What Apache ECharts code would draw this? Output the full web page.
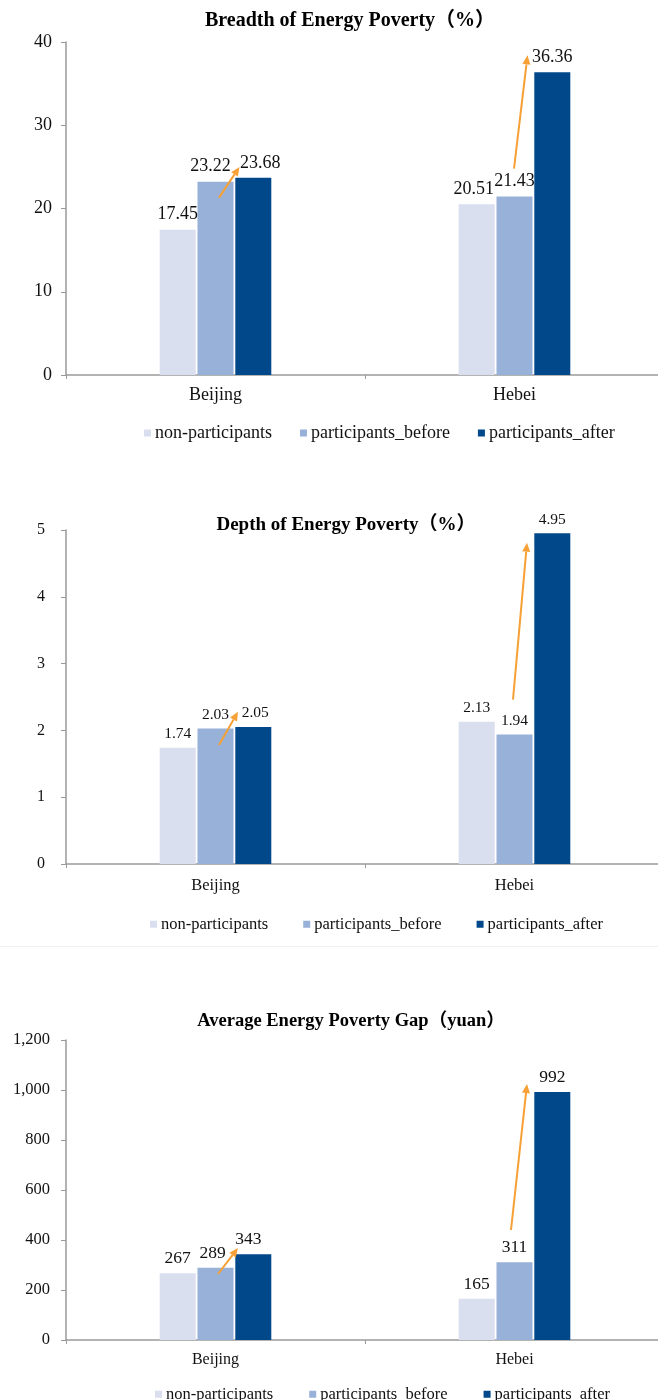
<!DOCTYPE html>
<html>
<head>
<meta charset="utf-8">
<script src="https://cdn.jsdelivr.net/npm/echarts@6/dist/echarts.min.js"></script>
<style>
  html, body { margin: 0; padding: 0; background: #ffffff; }
  #main { width: 658px; height: 1400px; }
</style>
</head>
<body>
<div id="main"></div>
<script>
// ---------- data ----------
const categories = ['Beijing', 'Hebei'];
const seriesNames = ['non-participants', 'participants_before', 'participants_after'];

const breadthNon = [17.45, 20.51];
const breadthBefore = [23.22, 21.43];
const breadthAfter = [23.68, 36.36];

const depthNon = [1.74, 2.13];
const depthBefore = [2.03, 1.94];
const depthAfter = [2.05, 4.95];

const gapNon = [267, 165];
const gapBefore = [289, 311];
const gapAfter = [343, 992];

const breadthTicks = [0, 10, 20, 30, 40];
const depthTicks = [0, 1, 2, 3, 4, 5];
const gapTicks = [0, 200, 400, 600, 800, 1000, 1200];

// arrow annotations (value at tail, value at head) per category
const breadthArrowFrom = [21.3, 24.8];
const breadthArrowTo = [25.0, 38.4];
const depthArrowFrom = [1.78, 2.46];
const depthArrowTo = [2.28, 4.81];
const gapArrowFrom = [264, 440];
const gapArrowTo = [368, 1024];

const titles = ['Breadth of Energy Poverty（%）', 'Depth of Energy Poverty（%）', 'Average Energy Poverty Gap（yuan）'];

// ---------- styles ----------
const SERIF = "'Liberation Serif', 'Times New Roman', 'Noto Sans CJK SC', serif";
const colors = ['#DADFF0', '#97B1D8', '#01488A'];
const arrowColor = '#F6A035';
const axisColor = '#9a9a9a';

const panels = [
  { top: 42, height: 333, ticks: breadthTicks, vals: [breadthNon, breadthBefore, breadthAfter],
    arrowFrom: breadthArrowFrom, arrowTo: breadthArrowTo, titleTop: 6, titleSize: 20, titleX: 345,
    legendTop: 419, legendLeft: 139, legendGap: 28,
    labelSize: 18, axisSize: 18, axisMargin: 14, catSize: 18, catMargin: 11, legendSize: 18,
    labelOffsets: [[[0,0],[-3,0]], [[-5,0],[0,0]], [[7,0],[0,0]]],
    arrowX: [[3.5, 24], [-0.5, 13]], fmt: v => String(v) },
  { top: 530, height: 334, ticks: depthTicks, vals: [depthNon, depthBefore, depthAfter],
    arrowFrom: depthArrowFrom, arrowTo: depthArrowTo, titleTop: 511, titleSize: 19, titleX: 341,
    legendTop: 911, legendLeft: 145, legendGap: 35,
    labelSize: 15.5, axisSize: 16, axisMargin: 21, catSize: 16.5, catMargin: 13, legendSize: 16.5,
    labelOffsets: [[[0,0],[0,0]], [[0,0],[0,0]], [[2,0],[0,0]]],
    arrowX: [[3.5, 22.5], [-1.5, 12.5]], fmt: v => String(v) },
  { top: 1040, height: 300, ticks: gapTicks, vals: [gapNon, gapBefore, gapAfter],
    arrowFrom: gapArrowFrom, arrowTo: gapArrowTo, titleTop: 1007, titleSize: 18.5, titleX: 346,
    legendTop: 1381, legendLeft: 150, legendGap: 36,
    labelSize: 17.5, axisSize: 16.5, axisMargin: 16, catSize: 16, catMargin: 12, legendSize: 16.5,
    labelOffsets: [[[0,0],[0,0]], [[-3,0],[0,0]], [[-5,0],[0,0]]],
    arrowX: [[2.5, 22.5], [-3.5, 12.5]], fmt: v => v.toLocaleString('en-US') }
];

function arrowRender(offsets) {
  return function (params, api) {
    const cat = api.value(0);
    const p0 = api.coord([cat, api.value(1)]);
    const p1 = api.coord([cat, api.value(2)]);
    const o = offsets[params.dataIndex];
    const x0 = p0[0] + o[0], y0 = p0[1];
    const x1 = p1[0] + o[1], y1 = p1[1];
    const dx = x1 - x0, dy = y1 - y0;
    const len = Math.sqrt(dx * dx + dy * dy);
    const ux = dx / len, uy = dy / len;
    const hl = 9, hw = 4;
    const bx = x1 - ux * hl, by = y1 - uy * hl;
    const px = -uy, py = ux;
    return {
      type: 'group',
      children: [
        { type: 'line', shape: { x1: x0, y1: y0, x2: bx, y2: by },
          style: { stroke: arrowColor, lineWidth: 2 } },
        { type: 'polygon', shape: { points: [[x1, y1], [bx + px * hw, by + py * hw], [bx - px * hw, by - py * hw]] },
          style: { fill: arrowColor } }
      ]
    };
  };
}

const option = {
  animation: false,
  backgroundColor: '#ffffff',
  title: [], legend: [], grid: [], xAxis: [], yAxis: [], series: [],
  graphic: [
    { type: 'rect', shape: { x: 0, y: 946, width: 658, height: 1 }, style: { fill: '#f0f0f0' }, silent: true }
  ]
};

panels.forEach((p, i) => {
  const t = p.ticks;
  option.title.push({
    text: titles[i], left: p.titleX, textAlign: 'center', top: p.titleTop,
    textStyle: { fontFamily: SERIF, fontWeight: 'bold', fontSize: p.titleSize, color: '#000' }
  });
  option.legend.push({
    data: seriesNames, left: p.legendLeft, top: p.legendTop, itemWidth: 7, itemHeight: 7, itemGap: p.legendGap,
    icon: 'rect', selectedMode: false,
    textStyle: { fontFamily: SERIF, fontSize: p.legendSize, color: '#111', padding: [0, 0, 0, -1] }
  });
  option.grid.push({ left: 66, width: 598, top: p.top, height: p.height, outerBoundsMode: 'none', containLabel: false });
  option.xAxis.push({
    type: 'category', data: categories, gridIndex: i,
    axisLine: { lineStyle: { color: axisColor, width: 1.5 } },
    axisTick: { show: true, length: 4, lineStyle: { color: axisColor } },
    axisLabel: { fontFamily: SERIF, fontSize: p.catSize, color: '#111', margin: p.catMargin }
  });
  option.yAxis.push({
    type: 'value', gridIndex: i, min: t[0], max: t[t.length - 1], interval: t[1] - t[0],
    axisLine: { show: true, lineStyle: { color: axisColor, width: 1.5 } },
    axisTick: { show: true, length: 5, lineStyle: { color: axisColor } },
    splitLine: { show: false },
    axisLabel: { fontFamily: SERIF, fontSize: p.axisSize, color: '#111', margin: p.axisMargin, formatter: p.fmt }
  });
  seriesNames.forEach((name, s) => {
    option.series.push({
      type: 'bar', name: name, xAxisIndex: i, yAxisIndex: i,
      barWidth: 36, barGap: '5%',
      itemStyle: { color: colors[s] },
      data: p.vals[s].map((v, k) => ({
        value: v,
        label: { offset: p.labelOffsets[s][k] }
      })),
      label: {
        show: true, position: 'top', distance: 6,
        fontFamily: SERIF, fontSize: p.labelSize, color: '#111',
        formatter: d => String(d.value)
      }
    });
  });
  option.series.push({
    type: 'custom', name: 'arrow' + i, xAxisIndex: i, yAxisIndex: i, silent: true, z: 10,
    renderItem: arrowRender(p.arrowX),
    encode: { x: 0, y: [1, 2] },
    data: categories.map((c, k) => [k, p.arrowFrom[k], p.arrowTo[k]])
  });
});

const chart = echarts.init(document.getElementById('main'), null, { renderer: 'canvas' });
chart.setOption(option);
</script>
</body>
</html>
